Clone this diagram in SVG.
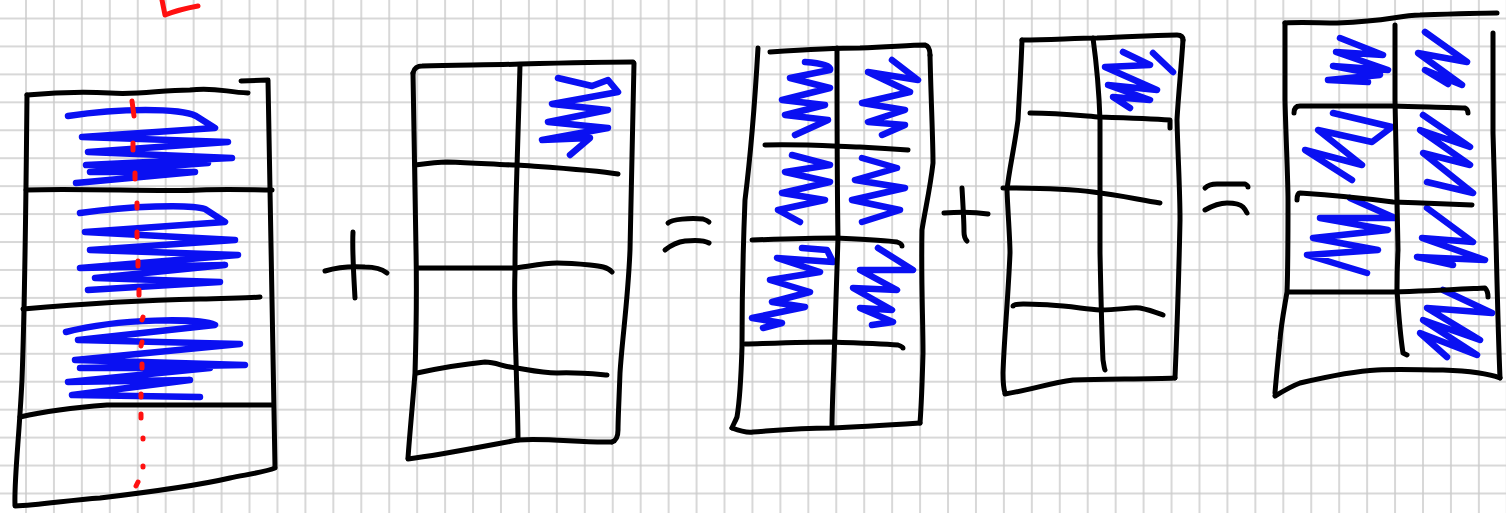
<svg xmlns="http://www.w3.org/2000/svg" width="1506" height="513" viewBox="0 0 1506 513">
  <defs>
    <!-- squared paper, 28px cells -->
    <pattern id="grid" patternUnits="userSpaceOnUse" x="12.03" y="4.53" width="27.94" height="27.94">
      <path d="M13.97,0 V27.94 M0,13.97 H27.94" stroke="#cbcbcb" stroke-width="1.5" fill="none"/>
    </pattern>
    <style>
      .ink { fill: none; stroke: #000; stroke-width: 5; stroke-linecap: round; stroke-linejoin: round; }
      .fill { fill: none; stroke: #0a10f2; stroke-width: 6.5; stroke-linecap: round; stroke-linejoin: round; }
      .red { fill: none; stroke: #ff1010; stroke-width: 5; stroke-linecap: round; stroke-linejoin: round; }
    </style>
  </defs>

  <rect width="1506" height="513" fill="#fff"/>
  <rect width="1506" height="513" fill="url(#grid)"/>

  <!-- first block: 4 rows, 1 column -->
  <g id="block1">
    <path class="fill" d="M68,116 C120,108 180,108 196,116 L215,128 L82,137 L228,142 L88,152 L232,158 L86,165 L208,163 L90,172 L195,172 L76,183"/>
    <path class="fill" d="M80,213 C130,206 190,204 205,209 L225,222 L85,232 L235,240 L90,250 L238,255 L80,268 L225,265 L95,278 L220,282 L88,290"/>
    <path class="fill" d="M66,332 C120,318 200,318 215,325 L78,340 L240,344 L75,360 L245,365 L80,368 L210,368 L68,382 L190,380 L72,395 L200,397"/>
    <path class="ink" d="M27,95 C60,92 90,92 110,93 C140,95 160,90 190,90 C215,87 225,92 248,93"/>
    <path class="ink" d="M241,81 L268,80 C269,150 271,230 272,300 C273,380 274,430 275,467"/>
    <path class="ink" d="M27,95 C26,200 25,300 22,380 C19,440 14,480 15,505"/>
    <path class="ink" d="M15,506 C40,505 70,500 100,498 C150,492 200,485 230,478 C250,474 265,472 275,468"/>
    <path class="ink" d="M26,190 C80,188 160,192 200,190 C230,189 255,190 272,190"/>
    <path class="ink" d="M23,309 C80,304 150,300 200,299 C230,298 250,298 260,297"/>
    <path class="ink" d="M20,417 C50,410 80,407 107,405 C170,405 230,405 273,405"/>
  </g>

  <!-- dotted cut line and arrow -->
  <g id="marks">
    <path class="red" d="M132,101 L134,116 M133,143 L133,150 M135,173 L135,179 M137,203 L137,208 M137,232 L137,237 M138,261 L138,266 M139,290 L139,295 M143,317 L142,320 M142,342 L141,346 M142,364 L142,368 M141,394 L141,397 M141,414 L141,418 M143,438 L143,439 M143,466 L143,467 M138,482 L136,486"/>
    <path class="red" d="M162,0 C163,5 164,10 165,15 C175,11 187,8 198,6"/>
  </g>

  <g id="plus1">
    <path class="ink" d="M353,232 C352,250 354,280 355,298"/>
    <path class="ink" d="M325,271 C335,268 350,266 365,267 C375,267 382,269 387,273"/>
  </g>

  <!-- second block: 4 rows, 2 columns -->
  <g id="block2">
    <path class="fill" d="M558,78 L592,86 L608,80 L618,92 L552,104 L608,110 L548,122 L608,128 L542,140 L590,138 L570,155"/>
    <path class="ink" d="M413,73 C414,68 418,66 422,66 C460,65 500,65 520,64 C560,63 600,62 633,62"/>
    <path class="ink" d="M413,73 C414,150 415,200 416,250 C417,300 416,340 415,373 C413,400 410,430 408,458"/>
    <path class="ink" d="M634,63 C633,130 631,190 630,250 C628,300 622,340 620,373 C619,400 618,420 618,430 C618,437 615,441 612,442"/>
    <path class="ink" d="M408,459 C440,455 480,447 518,440 C550,438 580,443 612,442"/>
    <path class="ink" d="M520,65 C519,100 518,140 517,167 C516,200 515,230 515,270 C514,300 515,330 516,360 C517,400 518,420 518,440"/>
    <path class="ink" d="M415,165 C430,163 440,162 447,162 C480,163 500,165 517,165 C560,168 595,170 618,174"/>
    <path class="ink" d="M418,268 C460,268 490,268 515,268 C530,266 545,263 557,263 C570,263 580,264 590,265 C600,266 608,267 612,272"/>
    <path class="ink" d="M417,373 C440,368 465,364 485,362 C495,362 502,366 510,367 C525,369 540,373 557,373 C575,372 595,374 607,375"/>
  </g>

  <g id="equals1">
    <path class="ink" d="M668,223 C672,219 690,218 703,219 C706,220 708,221 709,222"/>
    <path class="ink" d="M665,250 C670,246 676,242 685,241 C695,240 704,240 709,243"/>
  </g>

  <!-- third block: 4 rows, 2 columns, top three rows shaded -->
  <g id="block3">
    <path class="fill" d="M805,62 Q832,64 830,70 L790,78 L830,88 L782,100 L825,105 L785,115 L828,120 L795,135"/>
    <path class="fill" d="M892,60 L918,80 L868,72 L910,92 L862,103 L905,110 L868,122 L905,125 L882,135"/>
    <path class="fill" d="M792,155 L830,165 L785,172 L830,182 L782,193 L825,200 L778,210 L800,222"/>
    <path class="fill" d="M862,158 L897,168 L855,180 L905,188 L852,200 L900,210 L862,222"/>
    <path class="fill" d="M802,248 L827,250 L833,262 L777,258 L820,272 L770,280 L810,292 L772,302 L805,307 L752,318 L782,323 L763,328"/>
    <path class="fill" d="M878,248 L913,270 L860,270 L897,290 L853,288 L892,310 L860,308 L893,322 L872,325"/>
    <path class="ink" d="M770,52 C800,50 830,48 860,48 C890,47 910,45 925,45 C929,46 930,50 930,55"/>
    <path class="ink" d="M758,48 C755,100 750,160 745,200 C743,250 742,300 742,347 C741,380 739,405 737,417 C735,422 733,425 732,428"/>
    <path class="ink" d="M930,55 C931,100 933,140 933,163 C930,190 925,210 922,230 C921,280 923,320 923,353 C922,390 921,410 920,423"/>
    <path class="ink" d="M732,428 C740,431 748,433 753,432 C780,430 800,428 830,428 C860,427 890,425 920,423"/>
    <path class="ink" d="M837,48 C837,120 837,180 838,238 C837,280 835,320 834,360 C833,390 832,410 832,427"/>
    <path class="ink" d="M765,145 C800,144 830,146 860,147 C880,148 895,149 908,150"/>
    <path class="ink" d="M752,240 C780,239 810,238 837,238 C860,239 885,240 897,242 C900,243 902,244 902,246"/>
    <path class="ink" d="M745,344 C780,343 810,342 830,342 C860,343 885,344 898,345 C901,346 903,347 903,348"/>
  </g>

  <g id="plus2">
    <path class="ink" d="M962,188 C963,205 964,222 964,232 C964,236 965,239 967,241"/>
    <path class="ink" d="M944,213 C958,212 975,212 988,214"/>
  </g>

  <!-- fourth block: 4 rows, 2 columns, one cell shaded -->
  <g id="block4">
    <path class="fill" d="M1123,52 L1150,65 L1105,67 L1157,90 L1108,85 L1150,100 L1113,97 L1130,108"/>
    <path class="fill" d="M1153,53 L1173,72"/>
    <path class="ink" d="M1022,40 C1050,40 1075,38 1097,38 C1130,37 1160,35 1177,35 C1181,35 1183,37 1183,40"/>
    <path class="ink" d="M1022,40 C1021,70 1019,100 1018,120 C1014,150 1009,170 1007,190 C1008,215 1010,240 1010,253 C1008,300 1004,340 1003,373 C1003,383 1004,390 1005,393"/>
    <path class="ink" d="M1183,40 C1181,70 1178,100 1177,120 C1178,160 1180,190 1180,220 C1179,270 1177,330 1175,378"/>
    <path class="ink" d="M1005,394 C1030,390 1050,383 1073,380 C1110,379 1150,379 1175,378"/>
    <path class="ink" d="M1093,38 C1096,60 1099,90 1100,120 C1100,170 1100,210 1100,253 C1101,300 1102,340 1103,360 C1104,365 1104,368 1105,370"/>
    <path class="ink" d="M1030,113 C1060,113 1085,116 1100,117 C1130,118 1155,119 1170,120 L1170,128"/>
    <path class="ink" d="M1003,188 C1040,188 1070,189 1093,192 C1120,195 1140,200 1160,203"/>
    <path class="ink" d="M1013,306 C1013,303 1030,304 1050,305 C1070,306 1085,309 1100,310 C1120,310 1130,307 1140,308 C1150,310 1155,312 1163,315"/>
  </g>

  <g id="equals2">
    <path class="ink" d="M1205,188 C1208,185 1212,184 1217,184 C1230,184 1240,184 1245,184 C1247,185 1248,186 1248,187"/>
    <path class="ink" d="M1205,210 C1212,206 1220,203 1227,203 C1235,203 1240,204 1243,207 C1245,209 1246,211 1247,213"/>
  </g>

  <!-- fifth block: 4 rows, 2 columns, seven cells shaded -->
  <g id="block5">
    <path class="fill" d="M1340,38 L1383,55 L1336,52 L1388,70 L1333,66 L1380,75 L1328,80 L1368,82"/>
    <path class="fill" d="M1425,32 L1467,62 L1418,53 L1462,85 L1425,70 L1448,84"/>
    <path class="fill" d="M1333,113 L1392,127 L1372,142 L1318,130 L1362,165 L1305,150 L1352,180"/>
    <path class="fill" d="M1423,115 L1470,147 L1420,130 L1470,165 L1423,153 L1473,193 L1427,182"/>
    <path class="fill" d="M1350,198 L1395,218 L1320,218 L1388,230 L1313,238 L1378,250 L1307,255 L1367,273"/>
    <path class="fill" d="M1427,208 L1473,242 L1422,238 L1485,260 L1417,257 L1453,265"/>
    <path class="fill" d="M1443,290 L1492,313 L1427,308 L1480,340 L1423,320 L1477,355 L1420,333 L1447,357"/>
    <path class="ink" d="M1285,23 C1300,22 1320,23 1337,23 C1360,22 1380,20 1393,18 C1405,16 1412,15 1420,15 C1450,14 1480,13 1497,13"/>
    <path class="ink" d="M1285,23 C1285,50 1285,80 1285,100 C1286,140 1288,180 1288,200 C1288,240 1288,270 1287,292 C1284,310 1281,325 1280,340 C1278,360 1276,380 1275,393"/>
    <path class="ink" d="M1493,33 C1493,70 1493,100 1493,133 C1494,170 1495,200 1496,240 C1497,280 1498,330 1500,378"/>
    <path class="ink" d="M1275,396 C1285,390 1292,386 1300,383 C1330,376 1355,371 1377,370 C1400,369 1420,370 1443,370 C1470,371 1490,374 1500,378"/>
    <path class="ink" d="M1395,25 C1395,50 1395,80 1395,100 C1396,150 1397,200 1398,250 C1397,270 1397,280 1397,290 C1399,320 1401,340 1403,353 L1407,355"/>
    <path class="ink" d="M1294,113 C1294,108 1296,106 1300,106 C1330,106 1370,106 1393,106 C1420,107 1450,107 1465,108 C1467,109 1468,111 1468,113"/>
    <path class="ink" d="M1297,200 C1297,196 1298,193 1300,193 C1330,195 1370,199 1393,202 C1420,203 1450,204 1472,205"/>
    <path class="ink" d="M1288,292 C1320,292 1360,292 1393,292 C1430,291 1465,289 1485,288 C1487,290 1488,293 1488,297"/>
  </g>
</svg>
